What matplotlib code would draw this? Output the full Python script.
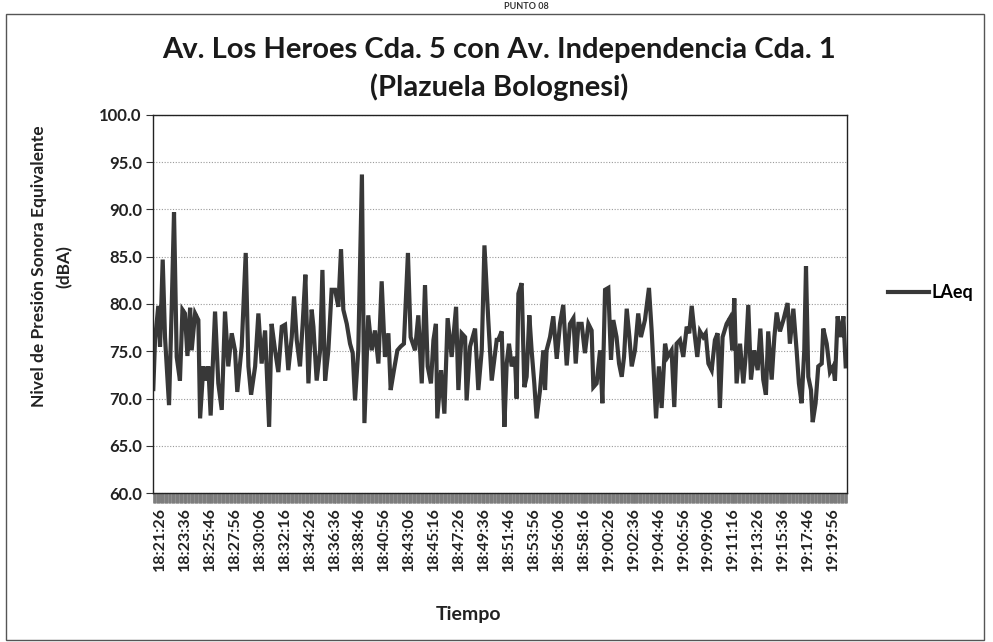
import numpy as np
import matplotlib
matplotlib.use('Agg')
import matplotlib.pyplot as plt
from matplotlib.patches import Rectangle
from matplotlib.ticker import MultipleLocator

plt.rcParams['font.family'] = ['Lato', 'DejaVu Sans']

TITLE = 'Av. Los Heroes Cda. 5 con Av. Independencia Cda. 1\n(Plazuela Bolognesi)'
Y_LABEL = 'Nivel de Presión Sonora Equivalente\n(dBA)'
X_LABEL = 'Tiempo'
SERIES_NAME = 'LAeq'
HEADING = 'PUNTO 08'

# seconds after 18:21:26
t_sec = [
    -35, -26, -9, 0, 14, 26, 47, 61, 73, 87, 104, 117, 130, 143, 157, 165, 183, 200, 209,
    226, 240, 252, 264, 287, 304, 322, 339, 356, 374, 391, 403, 426, 447, 461, 475, 496,
    513, 530, 548, 569, 582, 600, 617, 635, 652, 669, 687, 699, 713, 730, 744, 758, 774,
    791, 800, 817, 835, 847, 861, 878, 895, 913, 930, 944, 956, 974, 991, 1005, 1017, 1034,
    1053, 1066, 1086, 1104, 1121, 1139, 1156, 1173, 1191, 1203, 1220, 1238, 1255, 1272,
    1293, 1307, 1330, 1347, 1365, 1382, 1396, 1413, 1426, 1439, 1446, 1466, 1483, 1500,
    1521, 1544, 1556, 1573, 1591, 1599, 1617, 1643, 1660, 1678, 1692, 1712, 1730, 1756,
    1764, 1782, 1796, 1808, 1820, 1834, 1851, 1860, 1869, 1886, 1900, 1912, 1926, 1938,
    1952, 1964, 1982, 1999, 2008, 2016, 2034, 2051, 2069, 2086, 2103, 2121, 2138, 2156,
    2168, 2182, 2199, 2216, 2234, 2251, 2260, 2277, 2295, 2307, 2321, 2338, 2352, 2364,
    2381, 2394, 2408, 2420, 2434, 2448, 2460, 2477, 2494, 2508, 2529, 2550, 2564, 2578,
    2587, 2602, 2616, 2634, 2647, 2668, 2682, 2694, 2712, 2729, 2747, 2760, 2773, 2790,
    2802, 2816, 2833, 2846, 2860, 2877, 2894, 2908, 2920, 2934, 2955, 2972, 2985, 2995,
    3007, 3025, 3042, 3054, 3068, 3082, 3099, 3117, 3131, 3146, 3160, 3172, 3190, 3204,
    3216, 3233, 3251, 3273, 3285, 3303, 3320, 3332, 3346, 3360, 3369, 3381, 3395, 3404,
    3419, 3433, 3451, 3459, 3477, 3494, 3511, 3520, 3534, 3551, 3564, 3576,
]

laeq = [
    71.0, 76.2, 79.8, 75.5, 84.7, 76.5, 69.3, 79.7, 89.7, 74.4, 71.9, 79.4, 79.0, 74.5, 79.6,
    75.1, 79.0, 78.3, 67.9, 73.4, 71.9, 73.4, 68.2, 79.2, 71.6, 68.8, 79.2, 73.4, 76.9, 75.1,
    70.7, 75.5, 85.4, 73.4, 70.4, 73.4, 79.0, 73.7, 77.2, 67.0, 77.9, 75.1, 72.8, 77.6, 77.8,
    73.0, 76.5, 80.8, 76.2, 73.4, 77.9, 83.1, 71.6, 79.4, 77.6, 71.9, 75.1, 83.6, 71.9, 75.1,
    81.5, 81.5, 79.7, 85.8, 79.4, 77.9, 75.8, 74.8, 69.8, 75.1, 93.7, 67.4, 78.8, 75.1, 77.2,
    73.7, 82.4, 74.4, 76.9, 70.9, 73.0, 75.1, 75.5, 75.8, 85.4, 76.5, 75.1, 78.8, 71.6, 82.0,
    73.4, 71.6, 76.2, 77.9, 67.9, 73.0, 68.4, 78.5, 74.4, 79.7, 70.9, 76.9, 76.5, 69.8, 75.5,
    77.4, 70.9, 75.1, 86.2, 78.3, 71.9, 76.2,
    76.2, 77.1, 67.0, 73.7, 75.8, 73.4, 74.4, 70.0, 81.1, 82.2, 71.2, 72.3, 78.8, 75.1, 71.6,
    67.9, 70.9, 75.1, 70.9, 75.1, 76.5, 78.7, 74.2, 77.9, 79.9, 73.5, 77.9, 78.5, 73.7, 77.9,
    77.9, 74.8, 77.9, 77.2, 71.2, 71.6, 75.1, 69.5, 81.5, 81.7, 74.1, 78.3, 76.5, 73.7, 72.3,
    74.4, 79.5, 76.5, 73.4, 75.1, 79.0, 76.5, 78.3, 81.7, 77.2, 71.6, 67.9, 73.4, 69.0, 75.8,
    74.4, 75.1, 69.1, 75.8, 76.2, 74.4, 77.6, 76.9, 79.8, 76.5, 74.4, 77.1, 76.5, 76.9, 73.7,
    73.0, 76.2, 76.9, 69.0, 76.5, 77.9, 78.5, 75.1, 80.6, 71.6, 75.8, 71.6, 74.4, 79.9, 72.0,
    75.1, 73.0, 77.4, 72.0, 70.4, 77.1, 72.0, 76.5, 79.1, 77.1, 78.3, 80.1, 75.8, 79.5, 75.1,
    71.6, 69.5, 75.1, 84.0, 72.3, 70.9, 67.5, 69.5, 73.4, 73.7, 77.4, 75.8, 72.8, 73.4, 71.9,
    78.7, 76.5, 78.7, 73.4,
]

tick_labels = [
    '18:21:26', '18:23:36', '18:25:46', '18:27:56', '18:30:06', '18:32:16', '18:34:26',
    '18:36:36', '18:38:46', '18:40:56', '18:43:06', '18:45:16', '18:47:26', '18:49:36',
    '18:51:46', '18:53:56', '18:56:06', '18:58:16', '19:00:26', '19:02:36', '19:04:46',
    '19:06:56', '19:09:06', '19:11:16', '19:13:26', '19:15:36', '19:17:46', '19:19:56',
]


def to_sec(label):
    h, m, s = (int(v) for v in label.split(':'))
    return h * 3600 + m * 60 + s


t0 = to_sec(tick_labels[0])
tick_pos = [to_sec(lab) - t0 for lab in tick_labels]

fig = plt.figure(figsize=(9.93, 6.42), dpi=100)
ax = fig.add_axes([0.154, 0.232, 0.699, 0.589])

ax.plot(t_sec, laeq, color='#383838', linewidth=3.0, solid_joinstyle='miter', label=SERIES_NAME)

ax.set_xlim(-37, 3583)
ax.set_ylim(60, 100)
yt = np.arange(60, 100.1, 5)
ax.set_yticks(yt)
ax.set_yticklabels([f'{v:.1f}' for v in yt], fontsize=12, fontweight='bold', color='#222222')
ax.set_xticks(tick_pos)
ax.set_xticklabels(tick_labels, rotation=90, fontsize=11.5, fontweight='bold', color='#222222')
ax.xaxis.set_minor_locator(MultipleLocator(3))
ax.tick_params(axis='x', which='major', length=7, width=0.6, color='#666666', pad=3)
ax.tick_params(axis='x', which='minor', length=7, width=0.6, color='#7a7a7a')
ax.tick_params(axis='y', length=5, width=0.8, color='#333333', pad=3)

ax.grid(axis='y', color='#9a9a9a', linestyle=(0, (1, 1.5)), linewidth=0.8)
for sp in ax.spines.values():
    sp.set_color('#222222')
    sp.set_linewidth(1.0)

ax.set_xlabel(X_LABEL, fontsize=14, fontweight='bold', color='#222222')
ax.xaxis.set_label_coords(0.455, -0.30)
ax.set_ylabel(Y_LABEL, fontsize=12.5, fontweight='bold', linespacing=1.75, color='#222222')
ax.yaxis.set_label_coords(-0.115, 0.6)

fig.text(0.503, 0.893, TITLE, ha='center', va='center', fontsize=21, fontweight='bold',
         color='#1a1a1a', linespacing=1.45)

ax.legend(loc='center left', bbox_to_anchor=(1.035, 0.53), frameon=False,
          prop={'weight': 'bold', 'size': 13}, handlelength=2.3, handletextpad=0.15)

# outer chart frame and the heading above it
fig.patches.append(Rectangle((0.006, 0.003), 0.985, 0.975, transform=fig.transFigure,
                             fill=False, edgecolor='#555555', linewidth=1.0))
fig.text(0.53, 0.99, HEADING, ha='center', va='center', fontsize=6.5, fontweight='bold',
         color='#333333')

fig.savefig('out.png', dpi=100)
